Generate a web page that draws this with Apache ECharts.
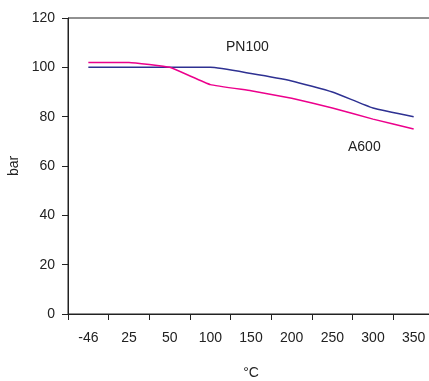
<!DOCTYPE html>
<html><head><meta charset="utf-8">
<script src="https://cdn.jsdelivr.net/npm/echarts@6/dist/echarts.min.js"></script>
<style>html,body{margin:0;padding:0;background:#fff}#c{width:429px;height:381px}</style>
</head><body><div id="c"></div>
<script>
var categories = ['-46','25','50','100','150','200','250','300','350'];
var pn100 = [100,100,100,100,97.5,94.5,90,83.5,80];
var a600 = [102,102,100,93,90.5,87.5,83.5,79,75];
var yTicks = {min:0, max:120, interval:20};

var chart = echarts.init(document.getElementById('c'));
var font = 'Liberation Sans, Arial, sans-serif';
chart.setOption({
  animation:false,
  grid:{left:68, right:-5, top:18, bottom:67, outerBoundsMode:'none', containLabel:false,
    show:true, borderColor:'#222', borderWidth:1, backgroundColor:'transparent'},
  xAxis:{type:'category', data:categories, boundaryGap:true,
    name:'°C', nameLocation:'middle', nameGap:52,
    nameTextStyle:{fontFamily:font, fontSize:14, color:'#222'},
    axisLine:{lineStyle:{color:'#222'}},
    axisTick:{show:true, length:6, lineStyle:{color:'#222'}},
    axisLabel:{fontFamily:font, fontSize:14, color:'#222', margin:17},
    splitLine:{show:false}},
  yAxis:{type:'value', min:yTicks.min, max:yTicks.max, interval:yTicks.interval,
    name:'bar', nameLocation:'middle', nameGap:47,
    nameTextStyle:{fontFamily:font, fontSize:14, color:'#222'},
    axisLine:{show:true, lineStyle:{color:'#222'}},
    axisTick:{show:true, length:6, lineStyle:{color:'#222'}},
    axisLabel:{fontFamily:font, fontSize:14, color:'#222', margin:13},
    splitLine:{show:false}},
  series:[
    {name:'PN100', type:'line', data:pn100, symbol:'none', smooth:0.15,
     lineStyle:{color:'#2e3192', width:1.5}},
    {name:'A600', type:'line', data:a600, symbol:'none', smooth:0.1,
     lineStyle:{color:'#ec008c', width:1.5}}
  ],
  graphic:[
    {type:'text', left:226, top:40, style:{text:'PN100', font:'14px '+font, fill:'#222'}},
    {type:'text', left:348, top:140, style:{text:'A600', font:'14px '+font, fill:'#222'}}
  ]
});
</script></body></html>
